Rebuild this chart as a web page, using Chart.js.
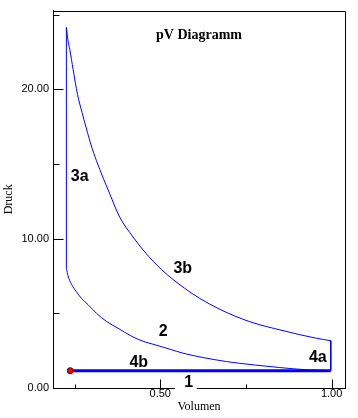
<!DOCTYPE html>
<html><head><meta charset="utf-8">
<script src="https://cdn.jsdelivr.net/npm/chart.js@4/dist/chart.umd.min.js"></script>
<style>html,body{margin:0;padding:0;background:#fff;}canvas{display:block;}</style>
</head><body>
<canvas id="c" width="358" height="418"></canvas>
<script>
// Expansion stroke 3b (adiabat, upper)
const stroke3bVolume   = [0.226, 0.231, 0.236, 0.2456, 0.2584, 0.2718, 0.2876, 0.2972, 0.3138, 0.3526, 0.3818, 0.4206, 0.4548, 0.5035, 0.5715, 0.6153, 0.6736, 0.7612, 0.8583, 0.9558, 0.9975];
const stroke3bPressure = [24.15, 23.22, 22.67, 21.33, 19.67, 18.44, 17.11, 16.33, 15.22, 13.0, 11.44, 10.11, 9.11, 7.93, 6.67, 6.0, 5.27, 4.44, 3.84, 3.33, 3.17];
// Compression stroke 2 (adiabat, lower)
const stroke2Volume    = [0.2262, 0.231, 0.2409, 0.2555, 0.2701, 0.2893, 0.3138, 0.343, 0.3769, 0.416, 0.4498, 0.479, 0.5277, 0.5665, 0.6249, 0.6932, 0.7708, 0.8487, 0.9266, 0.9975];
const stroke2Pressure  = [8.0, 7.5, 6.95, 6.44, 6.0, 5.58, 5.0, 4.46, 4.0, 3.47, 3.13, 2.93, 2.6, 2.33, 2.04, 1.77, 1.55, 1.37, 1.22, 1.17];
// Isochoric heat input 3a
const stroke3aVolume   = [0.226, 0.226];
const stroke3aPressure = [8.0, 24.15];
// Isochoric heat release 4a
const stroke4aVolume   = [0.9975, 0.9975];
const stroke4aPressure = [3.17, 1.17];
// Exhaust / intake 4b / 1
const stroke4bVolume   = [0.2374, 0.9975];
const stroke4bPressure = [1.16, 1.16];
// current state marker
const markerVolume   = [0.2374];
const markerPressure = [1.16];

const xTickLabels = ['0.50', '1.00'];
const yTickLabels = ['0.00', '10.00', '20.00'];

const stateLabels        = ['3a', '3b', '2', '4b', '1', '4a'];
const stateLabelVolume   = [0.2651, 0.5657, 0.5088, 0.4373, 0.5832, 0.9596];
const stateLabelPressure = [14.22, 8.05, 3.82, 1.77, 0.42, 2.09];

const pts = (xs, ys) => xs.map((v, i) => ({x: v, y: ys[i]}));
const BLUE = '#0000ff';

const framePlugin = {
  id: 'frame',
  afterDraw(chart) {
    const {ctx, chartArea: a, scales: {x, y}} = chart;
    ctx.save();
    ctx.strokeStyle = '#000';
    ctx.lineWidth = 1;
    const L = Math.round(a.left) + 0.5, R = Math.round(a.right) + 0.5;
    const T = Math.round(a.top) + 0.5, B = Math.round(a.bottom) + 0.5;
    ctx.beginPath();
    ctx.moveTo(L, T); ctx.lineTo(R, T); ctx.lineTo(R, B);
    ctx.stroke();
    // inward tick marks
    y.ticks.forEach(t => {
      const py = Math.round(y.getPixelForValue(t.value)) + 0.5;
      const major = yTickLabels.includes(t.value.toFixed(2));
      ctx.beginPath(); ctx.moveTo(L, py); ctx.lineTo(L + (major ? 10 : 6), py); ctx.stroke();
    });
    x.ticks.forEach(t => {
      const px = Math.round(x.getPixelForValue(t.value)) + 0.5;
      const major = xTickLabels.includes(t.value.toFixed(2));
      ctx.beginPath(); ctx.moveTo(px, B); ctx.lineTo(px, B - (major ? 9 : 4)); ctx.stroke();
    });
    // title inside plot
    ctx.fillStyle = '#000';
    ctx.font = 'bold 14px "Liberation Serif", serif';
    ctx.textAlign = 'center';
    ctx.textBaseline = 'alphabetic';
    ctx.fillText('pV Diagramm', (a.left + a.right) / 2, a.top + 28.5);
    // state labels
    ctx.font = 'bold 16px "Liberation Sans", Arial, sans-serif';
    ctx.textBaseline = 'middle';
    stateLabels.forEach((s, i) => {
      const px = x.getPixelForValue(stateLabelVolume[i]);
      const py = y.getPixelForValue(stateLabelPressure[i]);
      if (s === '1') {
        ctx.fillStyle = '#fff';
        ctx.fillRect(px - 14, py - 7, 22, 15);
      }
      ctx.fillStyle = '#000';
      ctx.fillText(s, px, py + 1);
    });
    ctx.restore();
  }
};

const lineDs = (xs, ys, w, mono) => ({
  data: pts(xs, ys), showLine: true, borderColor: BLUE, borderWidth: w,
  pointRadius: 0, fill: false, tension: 0,
  cubicInterpolationMode: mono ? 'monotone' : 'default'
});

new Chart(document.getElementById('c'), {
  type: 'scatter',
  data: {
    datasets: [
      {data: pts(markerVolume, markerPressure), pointRadius: 3, pointBackgroundColor: '#ff0000',
       pointBorderColor: '#500000', pointBorderWidth: 1, showLine: false},
      lineDs(stroke4bVolume, stroke4bPressure, 3, false),
      lineDs(stroke3aVolume, stroke3aPressure, 1, false),
      lineDs(stroke3bVolume, stroke3bPressure, 1, true),
      lineDs(stroke4aVolume, stroke4aPressure, 1, false),
      lineDs(stroke2Volume, stroke2Pressure, 1, true)
    ]
  },
  options: {
    responsive: false, animation: false, devicePixelRatio: 1,
    layout: {padding: {left: 0, top: 9, right: 13, bottom: 0}},
    plugins: {legend: {display: false}, tooltip: {enabled: false}},
    scales: {
      x: {
        type: 'linear', min: 0.187, max: 1.039,
        afterFit: s => { s.height = 30; },
        grid: {display: false, drawTicks: false},
        border: {display: true, color: '#000', width: 1},
        ticks: {
          stepSize: 0.25, includeBounds: false, autoSkip: false, maxRotation: 0, padding: -1,
          color: '#000', font: {family: '"Liberation Sans", Arial, sans-serif', size: 11},
          callback: v => { const s = Number(v).toFixed(2); return xTickLabels.includes(s) ? s : ''; }
        },
        title: {display: true, text: 'Volumen', color: '#000',
          font: {family: '"Liberation Serif", serif', size: 12}, padding: {top: 0, bottom: 4}}
      },
      y: {
        type: 'linear', min: 0, max: 25.27,
        afterFit: s => { s.width = 53; },
        grid: {display: false, drawTicks: false},
        border: {display: true, color: '#000', width: 1},
        ticks: {
          stepSize: 5, includeBounds: false, autoSkip: false, padding: 4,
          color: '#000', font: {family: '"Liberation Sans", Arial, sans-serif', size: 11},
          callback: v => { const s = Number(v).toFixed(2); return yTickLabels.includes(s) ? s : ''; }
        },
        title: {display: true, text: 'Druck', color: '#000',
          font: {family: '"Liberation Serif", serif', size: 12}, padding: {top: 2, bottom: 0}}
      }
    }
  },
  plugins: [framePlugin]
});
</script>
</body></html>
